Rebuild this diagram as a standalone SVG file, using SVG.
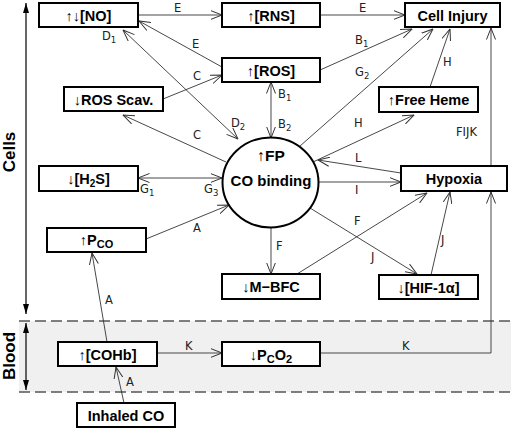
<svg xmlns="http://www.w3.org/2000/svg" width="512" height="430" viewBox="0 0 512 430">
<style>
.box{fill:#fff;stroke:#000;stroke-width:2}
.bt{font-family:"Liberation Sans",Arial,sans-serif;font-weight:bold;font-size:14.5px;fill:#000;text-anchor:middle}
.lbl{font-family:"DejaVu Sans",Verdana,sans-serif;font-size:11.5px;fill:#222}
.ln{fill:none;stroke:#333;stroke-width:0.9}
.ax{fill:none;stroke:#000;stroke-width:1.2}
.side{font-family:"Liberation Sans",Arial,sans-serif;font-weight:bold;font-size:17px;fill:#000;text-anchor:middle}
</style>
<defs>
<marker id="ah" viewBox="0 0 12 10" refX="11.5" refY="5" markerWidth="12" markerHeight="10" markerUnits="userSpaceOnUse" orient="auto-start-reverse">
<path d="M0,0.5 L11.5,5 L0,9.5" fill="none" stroke="#333" stroke-width="1"/>
</marker>
<marker id="fa" viewBox="0 0 10 6" refX="10" refY="3" markerWidth="10" markerHeight="6" markerUnits="userSpaceOnUse" orient="auto-start-reverse">
<path d="M0,0 L10,3 L0,6 z" fill="#000"/>
</marker>
</defs>

<g id="bands">
<rect x="19" y="321" width="492" height="71" fill="#f0f0f0"/>
<line x1="19" y1="321" x2="511" y2="321" stroke="#555" stroke-width="1.3" stroke-dasharray="11,5"/>
<line x1="19" y1="392" x2="511" y2="392" stroke="#555" stroke-width="1.3" stroke-dasharray="11,5"/>
<line class="ax" x1="26" y1="3" x2="26" y2="314" marker-start="url(#fa)" marker-end="url(#fa)"/>
<line class="ax" x1="26" y1="323" x2="26" y2="390" marker-start="url(#fa)" marker-end="url(#fa)"/>
<text class="side" transform="translate(15,152) rotate(-90)">Cells</text>
<text class="side" transform="translate(15,356) rotate(-90)">Blood</text>
</g>

<g id="connectors">
<line class="ln" x1="138" y1="15" x2="222" y2="15" marker-end="url(#ah)"/>
<line class="ln" x1="320" y1="15" x2="405" y2="15" marker-end="url(#ah)"/>
<line class="ln" x1="222" y1="67" x2="139" y2="21" marker-end="url(#ah)"/>
<line class="ln" x1="163" y1="99" x2="222" y2="75" marker-end="url(#ah)"/>
<line class="ln" x1="123" y1="30" x2="238" y2="139" marker-start="url(#ah)" marker-end="url(#ah)"/>
<line class="ln" x1="226" y1="162" x2="123" y2="115" marker-end="url(#ah)"/>
<line class="ln" x1="271" y1="82" x2="271" y2="138" marker-start="url(#ah)" marker-end="url(#ah)"/>
<line class="ln" x1="320" y1="70" x2="412" y2="29" marker-end="url(#ah)"/>
<line class="ln" x1="300" y1="146" x2="433" y2="29" marker-end="url(#ah)"/>
<line class="ln" x1="313" y1="162" x2="414" y2="115" marker-end="url(#ah)"/>
<line class="ln" x1="430" y1="87" x2="450" y2="29" marker-end="url(#ah)"/>
<line class="ln" x1="401" y1="173" x2="318" y2="160" marker-end="url(#ah)"/>
<line class="ln" x1="318" y1="182" x2="401" y2="182" marker-end="url(#ah)"/>
<line class="ln" x1="297" y1="274" x2="427" y2="193" marker-end="url(#ah)"/>
<line class="ln" x1="271" y1="227" x2="271" y2="274" marker-end="url(#ah)"/>
<line class="ln" x1="310" y1="208" x2="417" y2="274" marker-end="url(#ah)"/>
<line class="ln" x1="431" y1="275" x2="450" y2="192" marker-end="url(#ah)"/>
<line class="ln" x1="138" y1="178" x2="222" y2="178" marker-start="url(#ah)" marker-end="url(#ah)"/>
<line class="ln" x1="146" y1="239" x2="229" y2="205" marker-end="url(#ah)"/>
<line class="ln" x1="107" y1="342" x2="92" y2="253" marker-end="url(#ah)"/>
<line class="ln" x1="124" y1="403" x2="116" y2="367" marker-end="url(#ah)"/>
<line class="ln" x1="157" y1="353" x2="222" y2="353" marker-end="url(#ah)"/>
<polyline class="ln" points="320,353 491,353 491,192" marker-end="url(#ah)"/>
<line class="ln" x1="491" y1="166" x2="491" y2="28" marker-end="url(#ah)"/>

<text class="lbl" x="174" y="12">E</text>
<text class="lbl" x="359" y="12">E</text>
<text class="lbl" x="192" y="48">E</text>
<text class="lbl" x="193" y="80">C</text>
<text class="lbl" x="193" y="139">C</text>
<text class="lbl" x="102" y="40">D<tspan font-size="8.5" dy="3">1</tspan></text>
<text class="lbl" x="231" y="127">D<tspan font-size="8.5" dy="3">2</tspan></text>
<text class="lbl" x="278" y="98">B<tspan font-size="8.5" dy="3">1</tspan></text>
<text class="lbl" x="278" y="128">B<tspan font-size="8.5" dy="3">2</tspan></text>
<text class="lbl" x="355" y="44">B<tspan font-size="8.5" dy="3">1</tspan></text>
<text class="lbl" x="355" y="76">G<tspan font-size="8.5" dy="3">2</tspan></text>
<text class="lbl" x="354" y="127">H</text>
<text class="lbl" x="443" y="66">H</text>
<text class="lbl" x="456" y="136">FIJK</text>
<text class="lbl" x="355" y="162">L</text>
<text class="lbl" x="355" y="194">I</text>
<text class="lbl" x="354" y="225">F</text>
<text class="lbl" x="276" y="250">F</text>
<text class="lbl" x="371" y="261">J</text>
<text class="lbl" x="441" y="244">J</text>
<text class="lbl" x="140" y="193">G<tspan font-size="8.5" dy="3">1</tspan></text>
<text class="lbl" x="204" y="193">G<tspan font-size="8.5" dy="3">3</tspan></text>
<text class="lbl" x="193" y="232">A</text>
<text class="lbl" x="105" y="304">A</text>
<text class="lbl" x="126" y="386">A</text>
<text class="lbl" x="185" y="350">K</text>
<text class="lbl" x="402" y="350">K</text>
</g>

<g id="no"><rect class="box" x="39" y="3" width="99" height="24"/><text class="bt" x="88.5" y="20.5">↑↓[NO]</text></g>
<g id="rns"><rect class="box" x="222" y="3" width="98" height="24"/><text class="bt" x="271" y="20.5">↑[RNS]</text></g>
<g id="cellinjury"><rect class="box" x="405" y="3" width="95" height="24"/><text class="bt" x="452.5" y="20.5">Cell Injury</text></g>
<g id="ros"><rect class="box" x="222" y="58" width="98" height="24"/><text class="bt" x="271" y="75.5">↑[ROS]</text></g>
<g id="rosscav"><rect class="box" x="64" y="87" width="99" height="24"/><text class="bt" x="113.5" y="104.5">↓ROS Scav.</text></g>
<g id="freeheme"><rect class="box" x="379" y="87" width="99" height="25"/><text class="bt" x="428.5" y="105">↑Free Heme</text></g>
<g id="fp"><ellipse cx="270.5" cy="182.5" rx="48" ry="45" fill="#fff" stroke="#000" stroke-width="2"/>
<text class="bt" x="271" y="161" style="font-size:15.5px">↑FP</text>
<text class="bt" x="271" y="186" style="font-size:15px">CO binding</text></g>
<g id="h2s"><rect class="box" x="39" y="166" width="99" height="25"/><text class="bt" x="88.5" y="184">↓[H<tspan font-size="10" dy="3">2</tspan><tspan dy="-3">S]</tspan></text></g>
<g id="hypoxia"><rect class="box" x="401" y="166" width="106" height="25"/><text class="bt" x="454" y="184">Hypoxia</text></g>
<g id="pco"><rect class="box" x="47" y="228" width="99" height="24"/><text class="bt" x="96.5" y="245">↑P<tspan font-size="11" dy="3">CO</tspan></text></g>
<g id="mbfc"><rect class="box" x="222" y="274" width="98" height="25"/><text class="bt" x="271" y="292">↓M−BFC</text></g>
<g id="hif"><rect class="box" x="379" y="275" width="99" height="24"/><text class="bt" x="428.5" y="292.5">↓[HIF-1α]</text></g>
<g id="cohb"><rect class="box" x="58" y="342" width="99" height="24"/><text class="bt" x="107.5" y="359.5">↑[COHb]</text></g>
<g id="pco2"><rect class="box" x="222" y="342" width="98" height="24"/><text class="bt" x="271" y="359.5">↓P<tspan font-size="11" dy="3">C</tspan><tspan dy="-3">O</tspan><tspan font-size="11" dy="3">2</tspan></text></g>
<g id="inhaled"><rect class="box" x="77" y="403" width="98" height="24"/><text class="bt" x="126" y="420.5">Inhaled CO</text></g>
</svg>
